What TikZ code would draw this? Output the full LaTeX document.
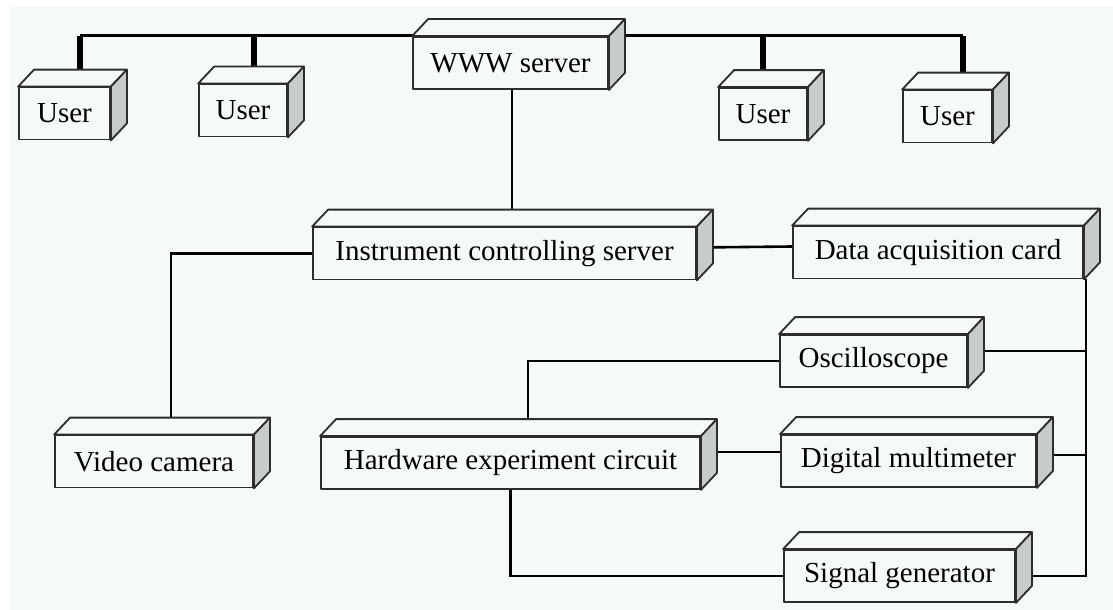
\documentclass[tikz,border=0pt]{standalone}
\usepackage{fontspec}
\setmainfont{Liberation Serif}
\usetikzlibrary{calc}

\definecolor{paper}{RGB}{245,249,247}
\definecolor{sideface}{RGB}{200,204,201}
\definecolor{edgegray}{RGB}{45,45,45}

\pgfdeclarelayer{bg}
\pgfdeclarelayer{wires}
\pgfsetlayers{bg,wires,main}

\tikzset{
  unit/.style={draw=edgegray, fill=paper, line width=1.8pt, line join=round,
    minimum height=52pt, minimum width=#1, inner sep=0pt,
    font=\fontsize{29}{34}\selectfont},
  face/.style={draw=edgegray, line width=1.8pt, line join=round},
  wire/.style={line width=2.6pt, black},
  drop/.style={line width=6pt, black},
}

% top and right faces of a box node
\newcommand{\cubeface}[1]{%
  \draw[face, fill=paper] (#1.north west) -- ++(16,-17)
    -- ($(#1.north east)+(16,-17)$) -- (#1.north east) -- cycle;
  \draw[face, fill=sideface] (#1.north east) -- ++(16,-17)
    -- ($(#1.south east)+(16,-17)$) -- (#1.south east) -- cycle;
}

\begin{document}
\begin{tikzpicture}[x=1pt, y=-1pt]
  \useasboundingbox (0,0) rectangle (1113,610);

  % ===== BOXES =====
  \node[unit=91pt]  (user1) at (64.5,113.5) {User};
  \node[unit=88pt]  (user2) at (243,110.5)  {User};
  \node[unit=195pt] (www)   at (510.5,63)   {WWW server};
  \node[unit=88pt]  (user3) at (763,114)    {User};
  \node[unit=89pt]  (user4) at (947.5,116.5) {User};

  \node[unit=383pt] (ics)   at (504.5,253.5) {Instrument controlling server};
  \node[unit=290pt] (dac)   at (938,252.5)   {Data acquisition card};
  \node[unit=187pt] (osc)   at (873.5,361)   {Oscilloscope};

  \node[unit=198pt] (vcam)  at (154,461.5)   {Video camera};
  \node[unit=379pt] (hec)   at (510.5,463)   {Hardware experiment circuit};
  \node[unit=255pt] (dmm)   at (908.5,461)   {Digital multimeter};
  \node[unit=231pt] (sig)   at (899.5,576)   {Signal generator};

  \foreach \b in {user1,user2,www,user3,user4,ics,dac,osc,vcam,hec,dmm,sig}
    {\cubeface{\b}}

  \begin{pgfonlayer}{bg}
    \fill[paper] (9,7) rectangle (1113,610);
  \end{pgfonlayer}

  % ===== CONNECTORS =====
  \begin{pgfonlayer}{wires}
    % user bus
    \coordinate (tapA) at (80,36);
    \coordinate (tapB) at (254,36);
    \coordinate (tapC) at (763,36);
    \coordinate (tapD) at (963,36);
    \draw[wire, line width=3pt] (tapA) -- (tapD);
    \draw[drop] (tapA) -- (tapA |- user1.north);
    \draw[drop] (tapB) -- (tapB |- user2.north);
    \draw[drop] (tapC) -- (tapC |- user3.north);
    \draw[drop] (tapD) -- (tapD |- user4.north);

    % server links
    \draw[wire] ([xshift=1.5pt]www.south) -- ([xshift=1.5pt]www.south |- ics.north);
    \draw[wire] (ics.west) -| ([xshift=17pt]vcam.north);
    \draw[wire] ([yshift=6pt]ics.east) -- ([yshift=6pt]dac.west);

    % instrument trunk
    \draw[wire] ([xshift=2pt]dac.south east) |- (sig.east);
    \draw[wire] ([yshift=10pt]osc.east) -- ([yshift=10pt,xshift=2pt]osc.east -| dac.south east);
    \draw[wire] ([yshift=6pt]dmm.east) -- ([yshift=6pt,xshift=2pt]dmm.east -| dac.south east);

    % circuit links
    \draw[wire] (osc.west) -| ([xshift=17.5pt]hec.north);
    \draw[wire] ([yshift=11pt]hec.east) -- ([yshift=11pt]hec.east -| dmm.west);
    \draw[wire] (hec.south) |- (sig.west);
  \end{pgfonlayer}
\end{tikzpicture}
\end{document}
